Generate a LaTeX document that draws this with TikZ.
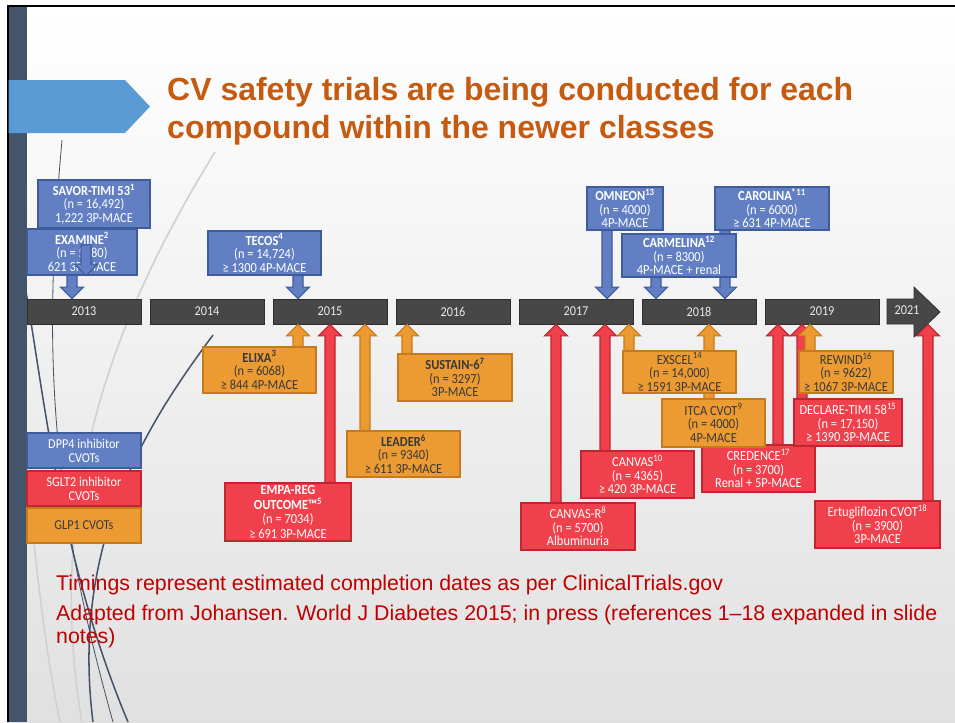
\documentclass[tikz,border=0pt]{standalone}
\usepackage{fontspec}
\setmainfont{Carlito}[FakeStretch=0.9]
\newfontfamily\arialfont{Liberation Sans}
\usetikzlibrary{calc}
\newcommand*{\px}{0.03cm}
\definecolor{slate}{HTML}{44546A}
\definecolor{titleorange}{HTML}{C55A11}
\definecolor{wispblue}{HTML}{5B9BD5}
\definecolor{dppfill}{RGB}{97,127,194}
\definecolor{dppline}{RGB}{62,92,155}
\definecolor{glpfill}{RGB}{235,155,50}
\definecolor{glpline}{RGB}{198,122,30}
\definecolor{sglfill}{RGB}{240,64,76}
\definecolor{sglline}{RGB}{190,38,50}
\definecolor{notered}{RGB}{192,0,0}
\tikzset{
  trial/.style={draw, line width=1.1pt, inner sep=0pt, align=center,
                font=\fontsize{11.8}{11.6}\selectfont},
  dpp/.style={trial, fill=dppfill, draw=dppline, text=white},
  sglt/.style={trial, fill=sglfill, draw=sglline, text=white},
  glp/.style={trial, fill=glpfill, draw=glpline, text=black!78},
  keybox/.style={minimum width=114*\px, minimum height=35*\px, font=\fontsize{11.6}{12.2}\selectfont},
  dpparrow/.style={fill=dppfill, draw=dppline, line width=0.9pt},
  sgltarrow/.style={fill=sglfill, draw=sglline, line width=0.9pt},
  glparrow/.style={fill=glpfill, draw=glpline, line width=0.9pt},
  yearbar/.style={fill=black!72, draw=black!82, line width=0.6pt, inner sep=0pt,
                  minimum width=114*\px, minimum height=25*\px, text=black!8,
                  font=\fontsize{11.6}{12}\selectfont},
  wisp/.style={draw=slate, line width=1.3pt},
  wispgrey/.style={draw=black!18, line width=1.4pt},
  note/.style={anchor=base west, inner sep=0pt, text=notered, font=\arialfont\fontsize{18.2}{21}\selectfont},
  heading/.style={anchor=base west, inner sep=0pt, text=titleorange, font=\arialfont\bfseries\fontsize{27.3}{32}\selectfont},
}
% fat block arrow: style, x, from node, to node
\newcommand*{\fatarrow}[4]{%
  \filldraw[#1] let \p0=(#2,0), \p1=(#3), \p2=(#4), \n1={(\y2>\y1)*2-1} in
    (\x0-5*\px,\y1) -- (\x0-5*\px,\y2-\n1*11.5*\px) -- (\x0-11.5*\px,\y2-\n1*11.5*\px)
    -- (\x0,\y2) -- (\x0+11.5*\px,\y2-\n1*11.5*\px) -- (\x0+5*\px,\y2-\n1*11.5*\px)
    -- (\x0+5*\px,\y1) -- cycle;}

\begin{document}
\begin{tikzpicture}[x=\px, y=-\px]
    \useasboundingbox[fill=white] (0,0) rectangle (955,722);
    \shade[top color=white, bottom color=black!12] (7,6) rectangle (955,722);
    \draw[line width=0.06cm] (955,6) -- (7.5,6) -- (7.5,722);
    \fill[slate] (8.5,7) rectangle (27,722);
    \fill[wispblue] (8.5,80) -- (125,80) -- (150,106.5) -- (125,133) -- (8.5,133) -- cycle;

    % heading
    \node[heading] (title1) at (167,100) {CV safety trials are being conducted for each};
    \node[heading] (title2) at (167,138) {compound within the newer classes};

    % theme swirls
    \draw[wispgrey] (215,152) .. controls (130,290) and (40,480) .. (82,722);
    \draw[wispgrey] (27,470) .. controls (35,560) and (45,650) .. (60,722);
    \draw[wisp, line width=0.7pt] (62,140) .. controls (45,330) and (45,480) .. (113,722);
    \draw[wisp] (24,280) .. controls (45,400) and (60,560) .. (128,722);
    \draw[wisp] (213,335) .. controls (150,420) and (70,540) .. (93,722);

    % timeline
    \foreach \yr [count=\i from 0] in {2013,...,2019}
        \node[yearbar] (y\yr) at (84+123*\i,311.5) {\yr};
    \filldraw[fill=black!72, draw=black!82, line width=0.6pt]
        (887,299) -- (914,299) -- (914,287) -- (940,312) -- (914,337) -- (914,324) -- (887,324) -- cycle;
    \node[text=black!8, font=\fontsize{11.6}{12}\selectfont] (lbl2021) at (907,310) {2021};

    % DPP4 inhibitors
    \node[dpp, minimum width=112*\px, minimum height=48*\px] (savor) at (94,204)
        {\textbf{SAVOR-TIMI 53\textsuperscript{1}}\\(n = 16,492)\\1,222 3P-MACE};
    \node[dpp, minimum width=110*\px, minimum height=46*\px] (examine) at (82,252)
        {\textbf{EXAMINE\textsuperscript{2}}\\(n = 5380)\\621 3P-MACE};
    \coordinate (savortail) at (86,245);
    \fatarrow{dpparrow}{86}{savortail}{examine.south}
    \fatarrow{dpparrow}{72}{examine.south}{y2013.north}
    \node[dpp, minimum width=113*\px, minimum height=44*\px] (tecos) at (264.5,253)
        {\textbf{TECOS\textsuperscript{4}}\\(n = 14,724)\\≥ 1300 4P-MACE};
    \fatarrow{dpparrow}{298}{tecos.south}{y2015.north}
    \node[dpp, minimum width=114*\px, minimum height=43*\px] (carolina) at (772,208.5)
        {\textbf{CAROLINA\textsuperscript{®11}}\\(n = 6000)\\≥ 631 4P-MACE};
    \fatarrow{dpparrow}{725}{carolina.south}{y2018.north}
    \node[dpp, minimum width=114*\px, minimum height=43*\px] (carmelina) at (679,255.5)
        {\textbf{CARMELINA\textsuperscript{12}}\\(n = 8300)\\4P-MACE + renal};
    \fatarrow{dpparrow}{656}{carmelina.south}{y2018.north}
    \node[dpp, minimum width=76*\px, minimum height=43*\px] (omneon) at (625,208.5)
        {\textbf{OMNEON\textsuperscript{13}}\\(n = 4000)\\4P-MACE};
    \fatarrow{dpparrow}{607}{omneon.south}{y2017.north}

    % GLP1 agonists
    \node[glp, minimum width=113*\px, minimum height=46*\px] (elixa) at (259.5,370)
        {\textbf{ELIXA\textsuperscript{3}}\\(n = 6068)\\≥ 844 4P-MACE};
    \fatarrow{glparrow}{298}{elixa.north}{y2015.south}
    \node[glp, minimum width=113*\px, minimum height=46*\px] (leader) at (403.5,454)
        {\textbf{LEADER\textsuperscript{6}}\\(n = 9340)\\≥ 611 3P-MACE};
    \fatarrow{glparrow}{365}{leader.north}{y2015.south}
    \node[glp, minimum width=114*\px, minimum height=47*\px] (sustain) at (455,377.5)
        {\textbf{SUSTAIN-6\textsuperscript{7}}\\(n = 3297)\\3P-MACE};
    \fatarrow{glparrow}{407}{sustain.north}{y2016.south}

    % SGLT2 inhibitors
    \node[sglt, minimum width=126*\px, minimum height=58*\px, font=\fontsize{11.8}{12.4}\selectfont] (empareg) at (288,512)
        {\textbf{EMPA-REG}\\\textbf{OUTCOME™\textsuperscript{5}}\\(n = 7034)\\≥ 691 3P-MACE};
    \fatarrow{sgltarrow}{330}{empareg.north}{y2015.south}
    \node[sglt, minimum width=114*\px, minimum height=47*\px] (canvasr) at (578,526.5)
        {CANVAS-R\textsuperscript{8}\\(n = 5700)\\Albuminuria};
    \fatarrow{sgltarrow}{556}{canvasr.north}{y2017.south}
    \node[sglt, minimum width=113*\px, minimum height=47*\px] (canvas) at (637.5,474.5)
        {CANVAS\textsuperscript{10}\\(n = 4365)\\≥ 420 3P-MACE};
    \fatarrow{sgltarrow}{605}{canvas.north}{y2017.south}
    \node[sglt, minimum width=113*\px, minimum height=47*\px] (credence) at (758.5,468.5)
        {CREDENCE\textsuperscript{17}\\(n = 3700)\\Renal + 5P-MACE};
    \fatarrow{sgltarrow}{778}{credence.north}{y2019.south}
    \node[sglt, minimum width=108*\px, minimum height=47*\px] (declare) at (848,422.5)
        {DECLARE-TIMI 58\textsuperscript{15}\\(n = 17,150)\\≥ 1390 3P-MACE};
    \fatarrow{sgltarrow}{802}{declare.north}{y2019.south}
    \node[sglt, minimum width=125*\px, minimum height=47*\px] (ertu) at (877.5,524.5)
        {Ertugliflozin CVOT\textsuperscript{18}\\(n = 3900)\\3P-MACE};
    \fatarrow{sgltarrow}{928}{ertu.north}{y2019.south}

    % GLP1 boxes sitting over the red ones
    \node[glp, minimum width=103*\px, minimum height=48*\px] (itca) at (713.5,423)
        {ITCA CVOT\textsuperscript{9}\\(n = 4000)\\4P-MACE};
    \fatarrow{glparrow}{709}{itca.north}{y2018.south}
    \node[glp, minimum width=113*\px, minimum height=42*\px] (exscel) at (679.5,372)
        {EXSCEL\textsuperscript{14}\\(n = 14,000)\\≥ 1591 3P-MACE};
    \fatarrow{glparrow}{629}{exscel.north}{y2017.south}
    \node[glp, minimum width=94*\px, minimum height=42*\px] (rewind) at (846,372)
        {REWIND\textsuperscript{16}\\(n = 9622)\\≥ 1067 3P-MACE};
    \fatarrow{glparrow}{810}{rewind.north}{y2019.south}

    % key
    \node[dpp, keybox] (keydpp) at (84,450.5) {DPP4 inhibitor\\CVOTs};
    \node[sglt, keybox] (keysglt) at (84,488.5) {SGLT2 inhibitor\\CVOTs};
    \node[glp, keybox] (keyglp) at (84,525.5) {GLP1 CVOTs};

    % footnotes
    \node[note] (note1) at (56,590) {Timings represent estimated completion dates as per ClinicalTrials.gov};
    \node[note] (note2) at (56,620) {Adapted from Johansen. World J Diabetes 2015; in press (references 1–18 expanded in slide};
    \node[note] (note3) at (56,643) {notes)};
\end{tikzpicture}
\end{document}
